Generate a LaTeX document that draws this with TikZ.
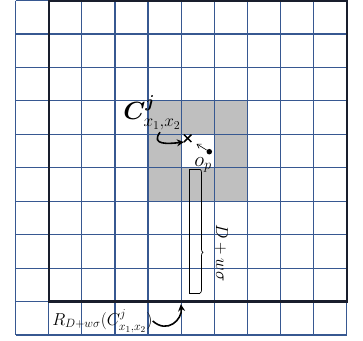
\documentclass[tikz,border=0pt]{standalone}
\usepackage{amsmath}
\usepackage{amssymb}
\usepackage{bm}
\usepackage{tikz}
\usetikzlibrary{arrows.meta,positioning,shapes.misc,decorations.pathreplacing}

\definecolor{gridblue}{RGB}{55,88,145}
\definecolor{borderdark}{RGB}{25,30,45}

\begin{document}
\begin{tikzpicture}[
  x=33.1pt, y=-33.45pt,
  gridline/.style={gridblue, line width=1.2pt},
  border/.style={borderdark, line width=2.2pt},
  shade/.style={fill=black!25, draw=none},
  bigarrow/.style={-{Stealth[length=7pt,width=7pt]}, line width=1.6pt},
  thinarrow/.style={-{Straight Barb[length=4pt,width=5pt]}, line width=0.6pt},
  bar/.style={line width=0.7pt},
  lbl/.style={inner sep=0pt, font=\fontsize{16}{18}\selectfont}
]
\useasboundingbox (-0.474,-0.015) rectangle (10.493,10.179);

% neighbourhood cells
\fill[shade] (4,3) rectangle (7,6);
\fill[white] (5,4) rectangle (6,5);

\foreach \i in {0,...,10} {
  \draw[gridline] (\i,0) -- (\i,10);
  \draw[gridline] (0,\i) -- (10,\i);
}
\draw[border] (1,0) rectangle (10,9);

\node[cross out, draw, line width=1.5pt, minimum size=6pt, inner sep=0pt] (cross) at (5.196,4.12) {};
\node[circle, fill, inner sep=0pt, minimum size=5.5pt] (dot) at (5.849,4.52) {};
\node[lbl, font=\fontsize{23}{26}\selectfont] (clabel) at (4.12,3.36) {$\bm{C}^{\bm{j}}_{\vphantom{A}x_1,x_2}$};
\node[lbl, font=\fontsize{22}{24}\selectfont] (oplabel) at (5.66,4.92) {$o_p$};

\draw[thinarrow, shorten >=6pt] (dot) -- (cross);
\draw[bigarrow] ([xshift=8pt,yshift=-2pt]clabel.south) .. controls +(-0.3,0.4) and +(-0.45,0.05) .. (cross.south west);

% the D + w sigma bar
\coordinate (bartop) at (5.568,5.046);
\coordinate (barbot) at (5.568,8.75);
\draw[bar] (bartop) -- (5.245,5.046) -- (5.245,8.75) -- (barbot);
\draw[bar, decorate, decoration={brace, amplitude=3pt, aspect=0.67}] (bartop) -- (barbot);
\node[lbl, rotate=-90] (dlabel) at (6.22,7.55) {$D+w\sigma$};

\node[lbl, font=\fontsize{17.5}{20}\selectfont] (rlabel) at (2.62,9.58) {$R_{D+w\sigma}(C^{j}_{\vphantom{A}x_1,x_2})$};
\coordinate (rtip) at (4.99,9.08);
\draw[bigarrow] (rlabel.east) .. controls +(0.45,0.4) and +(0.05,0.45) .. (rtip);
\end{tikzpicture}
\end{document}
